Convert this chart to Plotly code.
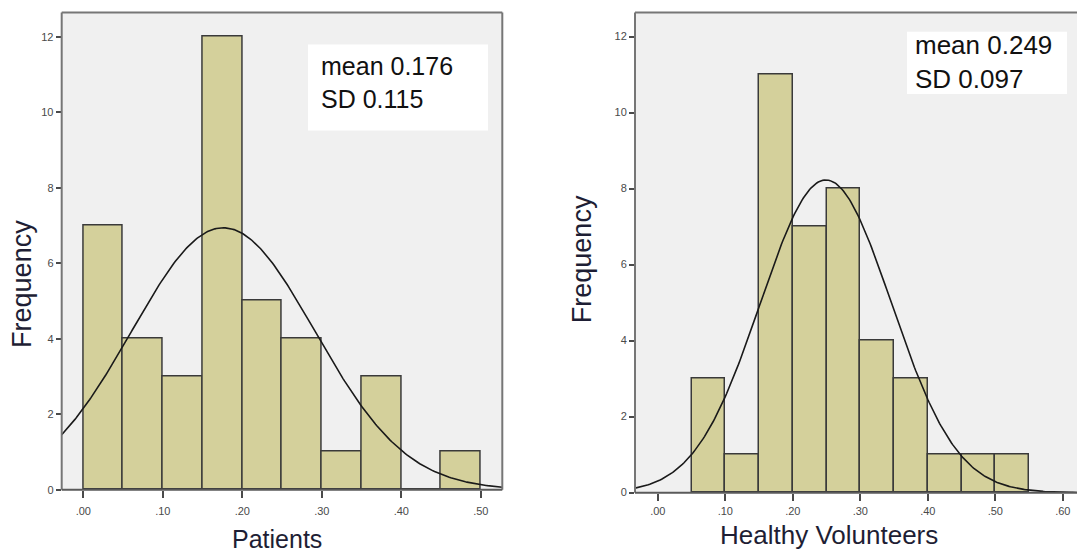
import numpy as np
import plotly.graph_objects as go

# ---------------- data ----------------
bin_width = 0.05
patients_bin_centers = [0.025, 0.075, 0.125, 0.175, 0.225, 0.275, 0.325, 0.375, 0.425, 0.475]
patients_counts = [7, 4, 3, 12, 5, 4, 1, 3, 0, 1]
patients_mean = 0.176
patients_sd = 0.115

volunteers_bin_centers = [0.075, 0.125, 0.175, 0.225, 0.275, 0.325, 0.375, 0.425, 0.475, 0.525]
volunteers_counts = [3, 1, 11, 7, 8, 4, 3, 1, 1, 1]
volunteers_mean = 0.249
volunteers_sd = 0.097

y_tick_vals = [0, 2, 4, 6, 8, 10, 12]
patients_x_ticks = [0.0, 0.1, 0.2, 0.3, 0.4, 0.5]
patients_x_labels = [".00", ".10", ".20", ".30", ".40", ".50"]
volunteers_x_ticks = [0.0, 0.1, 0.2, 0.3, 0.4, 0.5, 0.6]
volunteers_x_labels = [".00", ".10", ".20", ".30", ".40", ".50", ".60"]

left_range = [-0.0272, 0.527]
right_range = [-0.0338, 0.621]

# ---------------- styling ----------------
FONT = "Liberation Sans, Arial, sans-serif"
BAR_FILL = "#d4d09b"
BAR_LINE = "#3a3a3a"
FRAME = "#767676"
PLOT_BG = "#f0f0f0"
TITLE_COLOR = "#1e1e34"
TICK_COLOR = "#4a4a4a"
W, H = 1077, 557


def normal_curve(mean, sd, n, x0, x1):
    xs = np.linspace(x0, x1, 300)
    ys = n * bin_width * np.exp(-0.5 * ((xs - mean) / sd) ** 2) / (sd * np.sqrt(2 * np.pi))
    return xs, ys


fig = go.Figure()

fig.add_trace(go.Bar(
    x=patients_bin_centers, y=patients_counts, width=bin_width,
    marker=dict(color=BAR_FILL, line=dict(color=BAR_LINE, width=1.5)),
    xaxis="x", yaxis="y", showlegend=False, hoverinfo="skip"))
px_, py_ = normal_curve(patients_mean, patients_sd, sum(patients_counts), left_range[0], left_range[1])
fig.add_trace(go.Scatter(x=px_, y=py_, mode="lines", line=dict(color="#1a1a1a", width=1.6),
                         xaxis="x", yaxis="y", showlegend=False, hoverinfo="skip"))

fig.add_trace(go.Bar(
    x=volunteers_bin_centers, y=volunteers_counts, width=bin_width,
    marker=dict(color=BAR_FILL, line=dict(color=BAR_LINE, width=1.5)),
    xaxis="x2", yaxis="y2", showlegend=False, hoverinfo="skip"))
vx_, vy_ = normal_curve(volunteers_mean, volunteers_sd, sum(volunteers_counts), right_range[0], right_range[1])
fig.add_trace(go.Scatter(x=vx_, y=vy_, mode="lines", line=dict(color="#1a1a1a", width=1.6),
                         xaxis="x2", yaxis="y2", showlegend=False, hoverinfo="skip"))

axis_common = dict(showgrid=False, zeroline=False, showline=False, ticks="outside",
                   tickcolor=TICK_COLOR, tickwidth=1.5,
                   tickfont=dict(family=FONT, size=11, color=TICK_COLOR))

fig.update_layout(
    width=W, height=H, autosize=False,
    margin=dict(l=0, r=0, t=0, b=0),
    paper_bgcolor="white", plot_bgcolor=PLOT_BG,
    bargap=0,
    xaxis=dict(domain=[61.7 / W, 502.3 / W], range=left_range, anchor="y",
               tickvals=patients_x_ticks, ticktext=patients_x_labels, ticklen=7,
               ticklabelstandoff=4, **axis_common),
    yaxis=dict(domain=[1 - 495 / H, 1 - 12.7 / H], range=[0, 12.64], anchor="x",
               tickvals=y_tick_vals, ticklen=5, **axis_common),
    xaxis2=dict(domain=[635 / W, 1.0], range=right_range, anchor="y2",
                tickvals=volunteers_x_ticks, ticktext=volunteers_x_labels, ticklen=7,
                ticklabelstandoff=1, **axis_common),
    yaxis2=dict(domain=[1 - 498 / H, 1 - 12.7 / H], range=[0, 12.63], anchor="x2",
                tickvals=y_tick_vals, ticklen=5, **axis_common),
)

shapes = []
# frames (left panel: full box; right panel: right side off canvas)
for xr, yr, sides in [("x domain", "y domain", "lrtb"), ("x2 domain", "y2 domain", "ltb")]:
    if "l" in sides:
        shapes.append(dict(type="line", xref=xr, yref=yr, x0=0, x1=0, y0=0, y1=1, line=dict(color=FRAME, width=2)))
    if "r" in sides:
        shapes.append(dict(type="line", xref=xr, yref=yr, x0=1, x1=1, y0=0, y1=1, line=dict(color=FRAME, width=2)))
    if "t" in sides:
        shapes.append(dict(type="line", xref=xr, yref=yr, x0=0, x1=1, y0=1, y1=1, line=dict(color=FRAME, width=2)))
    if "b" in sides:
        shapes.append(dict(type="line", xref=xr, yref=yr, x0=0, x1=1, y0=0, y1=0, line=dict(color="#5a5a5a", width=2)))

# white stat boxes
shapes.append(dict(type="rect", xref="paper", yref="paper", x0=308 / W, x1=488 / W,
                   y0=1 - 132 / H, y1=1 - 45 / H, fillcolor="white", line=dict(width=0), layer="above"))
shapes.append(dict(type="rect", xref="paper", yref="paper", x0=907 / W, x1=1067 / W,
                   y0=1 - 95 / H, y1=1 - 32 / H, fillcolor="white", line=dict(width=0), layer="above"))
fig.update_layout(shapes=shapes)

annotations = [
    dict(text=f"mean {patients_mean:.3f}<br>SD {patients_sd:.3f}", xref="paper", yref="paper",
         x=319 / W, y=1 - 83 / H, xanchor="left", yanchor="middle", align="left", showarrow=False,
         font=dict(family=FONT, size=25, color="#111111")),
    dict(text=f"mean {volunteers_mean:.3f}<br>SD {volunteers_sd:.3f}", xref="paper", yref="paper",
         x=913 / W, y=1 - 63 / H, xanchor="left", yanchor="middle", align="left", showarrow=False,
         font=dict(family=FONT, size=26, color="#111111")),
    dict(text="Frequency", xref="paper", yref="paper", x=22 / W, y=1 - 287 / H, textangle=-90,
         xanchor="center", yanchor="middle", showarrow=False,
         font=dict(family=FONT, size=27, color=TITLE_COLOR)),
    dict(text="Frequency", xref="paper", yref="paper", x=582 / W, y=1 - 262 / H, textangle=-90,
         xanchor="center", yanchor="middle", showarrow=False,
         font=dict(family=FONT, size=27, color=TITLE_COLOR)),
    dict(text="Patients", xref="paper", yref="paper", x=277 / W, y=1 - 545 / H,
         xanchor="center", yanchor="middle", showarrow=False,
         font=dict(family=FONT, size=25, color=TITLE_COLOR)),
    dict(text="Healthy Volunteers", xref="paper", yref="paper", x=829 / W, y=1 - 541 / H,
         xanchor="center", yanchor="middle", showarrow=False,
         font=dict(family=FONT, size=26, color=TITLE_COLOR)),
]
fig.update_layout(annotations=annotations)

fig.write_html("out.html")
